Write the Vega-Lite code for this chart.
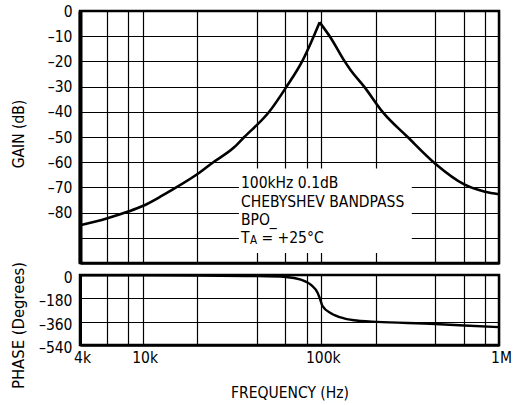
{
  "$schema": "https://vega.github.io/schema/vega-lite/v6.json",
  "background": "white",
  "padding": {"left": 9, "top": 2, "right": 5, "bottom": 5},
  "spacing": 12,
  "bounds": "flush",
  "datasets": {
    "gain": [
      {"freq": 4450, "gain": -85.0, "branch": "rise"},
      {"freq": 6280, "gain": -82.3, "branch": "rise"},
      {"freq": 8300, "gain": -79.6, "branch": "rise"},
      {"freq": 10000, "gain": -77.4, "branch": "rise"},
      {"freq": 12700, "gain": -73.5, "branch": "rise"},
      {"freq": 14700, "gain": -70.9, "branch": "rise"},
      {"freq": 20800, "gain": -64.2, "branch": "rise"},
      {"freq": 24700, "gain": -60.2, "branch": "rise"},
      {"freq": 32500, "gain": -54.2, "branch": "rise"},
      {"freq": 37200, "gain": -50.0, "branch": "rise"},
      {"freq": 51300, "gain": -40.0, "branch": "rise"},
      {"freq": 63700, "gain": -30.4, "branch": "rise"},
      {"freq": 79600, "gain": -19.2, "branch": "rise"},
      {"freq": 88000, "gain": -12.6, "branch": "rise"},
      {"freq": 98500, "gain": -4.5, "branch": "rise"},
      {"freq": 98500, "gain": -4.5, "branch": "fall"},
      {"freq": 114000, "gain": -10.8, "branch": "fall"},
      {"freq": 135000, "gain": -19.6, "branch": "fall"},
      {"freq": 147500, "gain": -23.6, "branch": "fall"},
      {"freq": 175000, "gain": -30.0, "branch": "fall"},
      {"freq": 222000, "gain": -40.0, "branch": "fall"},
      {"freq": 307000, "gain": -50.0, "branch": "fall"},
      {"freq": 439000, "gain": -60.6, "branch": "fall"},
      {"freq": 638000, "gain": -68.8, "branch": "fall"},
      {"freq": 834000, "gain": -71.7, "branch": "fall"},
      {"freq": 1000000, "gain": -72.7, "branch": "fall"}
    ],
    "phase": [
      {"freq": 4450, "phase": -2},
      {"freq": 10000, "phase": -3},
      {"freq": 20000, "phase": -4},
      {"freq": 40500, "phase": -8},
      {"freq": 63700, "phase": -15},
      {"freq": 77300, "phase": -36},
      {"freq": 89100, "phase": -82},
      {"freq": 95900, "phase": -136},
      {"freq": 98400, "phase": -175},
      {"freq": 102300, "phase": -240},
      {"freq": 114000, "phase": -295},
      {"freq": 135000, "phase": -335},
      {"freq": 168000, "phase": -355},
      {"freq": 206000, "phase": -362},
      {"freq": 437000, "phase": -378},
      {"freq": 638000, "phase": -390},
      {"freq": 1000000, "phase": -402}
    ],
    "note_box": [
      {"freq": 34700, "freq_end": 324000, "gain": -62.5, "gain_end": -96}
    ],
    "note_lines": [
      {"freq": 35600, "gain": -70.1, "text": "100kHz 0.1dB"},
      {"freq": 35600, "gain": -77.6, "text": "CHEBYSHEV BANDPASS"},
      {"freq": 35600, "gain": -85.1, "text": "BPO_"},
      {"freq": 35600, "gain": -92.1, "text": "T"}
    ],
    "note_sub": [
      {"freq": 35600, "gain": -92.1, "text": "A"}
    ],
    "note_tail": [
      {"freq": 35600, "gain": -92.1, "text": "= +25°C"}
    ]
  },
  "config": {
    "view": {"stroke": "black", "strokeWidth": 2.5},
    "axis": {
      "labelFont": "DejaVu Sans Condensed",
      "titleFont": "DejaVu Sans Condensed",
      "labelFontSize": 15.5,
      "titleFontSize": 15.5,
      "titleFontWeight": "normal",
      "labelColor": "black",
      "titleColor": "black",
      "gridColor": "black",
      "gridWidth": 1.2,
      "gridOpacity": 1,
      "domainColor": "black",
      "ticks": false,
      "labelOverlap": false,
      "labelFlush": false,
      "labelBound": false
    },
    "text": {"font": "DejaVu Sans Condensed", "fontSize": 15.5, "color": "black"}
  },
  "vconcat": [
    {
      "width": 419,
      "height": 252,
      "encoding": {
        "x": {"field": "freq", "type": "quantitative", "scale": {"type": "log", "domain": [4450, 1000000]},
          "axis": {"values": [4450, 6280, 8240, 10000, 20300, 43600, 63200, 83200, 100000, 204000, 437000, 638000, 837000, 1000000],
            "labels": false, "title": null, "domain": true, "domainWidth": 2.5, "grid": true}},
        "y": {"field": "gain", "type": "quantitative", "scale": {"domain": [-100, 0]},
          "axis": {"values": [0, -10, -20, -30, -40, -50, -60, -70, -80, -90, -100],
            "labelExpr": "datum.value < -85 ? '' : datum.value < 0 ? '–' + abs(datum.value) : '0'",
            "title": "GAIN (dB)", "titleX": -61.5, "titleY": 122.5, "titleBaseline": "middle", "titleAlign": "center",
            "labelPadding": 8, "domainWidth": 4, "grid": true}}
      },
      "layer": [
        {
          "data": {"name": "gain"},
          "mark": {"type": "line", "color": "black", "strokeWidth": 2.6, "interpolate": "monotone"},
          "encoding": {
            "detail": {"field": "branch"}
          }
        },
        {
          "data": {"name": "note_box"},
          "mark": {"type": "rect", "color": "white", "opacity": 1},
          "encoding": {
            "x2": {"field": "freq_end"},
            "y2": {"field": "gain_end"}
          }
        },
        {
          "data": {"name": "note_lines"},
          "mark": {"type": "text", "align": "left", "baseline": "alphabetic"},
          "encoding": {
            "text": {"field": "text"}
          }
        },
        {
          "data": {"name": "note_sub"},
          "mark": {"type": "text", "align": "left", "baseline": "alphabetic", "fontSize": 11.5, "dx": 9, "dy": 1},
          "encoding": {
            "text": {"field": "text"}
          }
        },
        {
          "data": {"name": "note_tail"},
          "mark": {"type": "text", "align": "left", "baseline": "alphabetic", "dx": 20.5},
          "encoding": {
            "text": {"field": "text"}
          }
        }
      ]
    },
    {
      "width": 419,
      "height": 70,
      "data": {"name": "phase"},
      "mark": {"type": "line", "color": "black", "strokeWidth": 2.4, "interpolate": "monotone"},
      "encoding": {
        "x": {"field": "freq", "type": "quantitative", "scale": {"type": "log", "domain": [4450, 1000000]},
          "axis": {"values": [4450, 6280, 8240, 10000, 20300, 43600, 63200, 83200, 100000, 204000, 437000, 638000, 837000, 1000000],
            "labelExpr": "datum.value < 5000 ? '4k' : datum.value == 10000 ? '10k' : datum.value == 100000 ? '100k' : datum.value == 1000000 ? '1M' : ''",
            "labelPadding": 5, "labelOffset": 2, "title": "FREQUENCY (Hz)", "titlePadding": 20, "domainWidth": 2.5, "grid": true}},
        "y": {"field": "phase", "type": "quantitative", "scale": {"domain": [-540, 0]},
          "axis": {"values": [0, -180, -360, -540],
            "labelExpr": "datum.value < 0 ? '–' + abs(datum.value) : '0'",
            "title": "PHASE (Degrees)", "titleFontSize": 16.5, "titleX": -61.5, "titleY": 50,
            "titleBaseline": "middle", "titleAlign": "center", "labelPadding": 8, "labelOffset": 2.5, "domainWidth": 3, "grid": true}}
      }
    }
  ]
}
